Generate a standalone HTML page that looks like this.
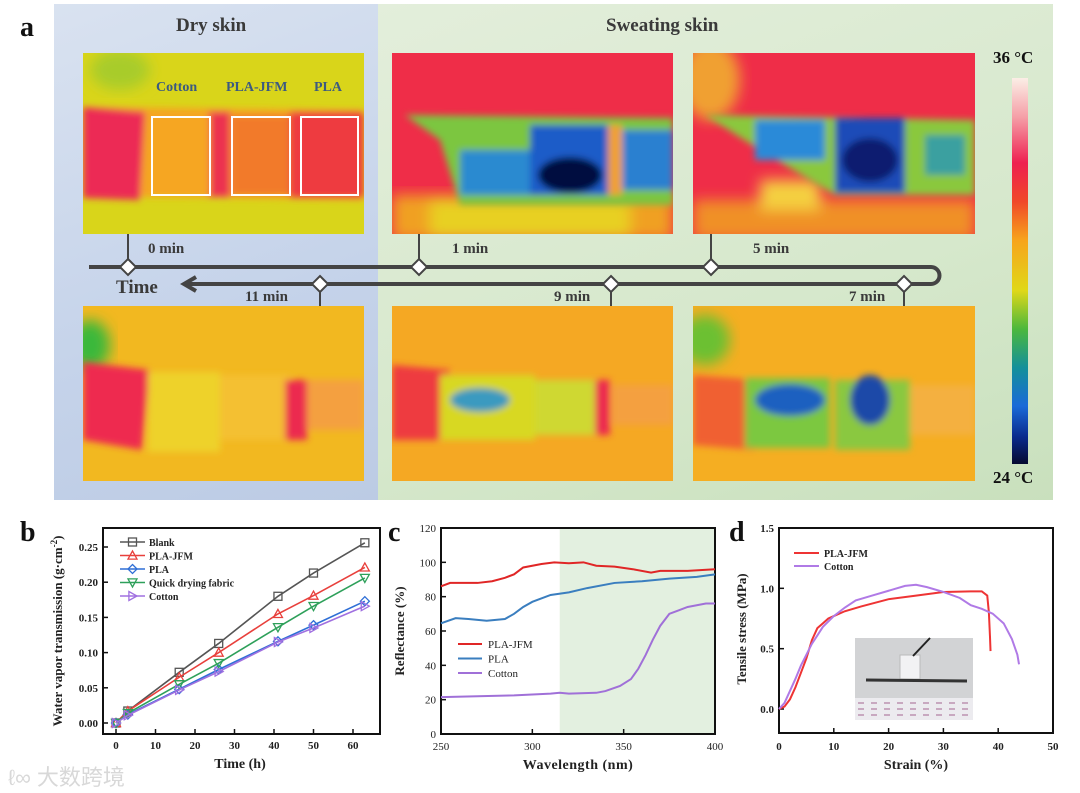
<!DOCTYPE html>
<html><head><meta charset="utf-8">
<style>
html,body{margin:0;padding:0;background:#fff;}
body{width:1080px;height:793px;position:relative;overflow:hidden;font-family:"Liberation Serif",serif;}
.abs{position:absolute;}
.lbl{position:absolute;font-weight:bold;color:#3a3a3a;font-family:"Liberation Serif",serif;white-space:nowrap;}
</style></head>
<body>
<div class="abs" style="left:54px;top:4px;width:324px;height:496px;background:linear-gradient(160deg,#d9e2f0,#c5d3ea 60%,#bccbe4);"></div>
<div class="abs" style="left:378px;top:4px;width:675px;height:496px;background:linear-gradient(160deg,#e3eedb,#d6e8cc 60%,#c9e0bd);"></div>
<div class="lbl" style="left:20px;top:12px;font-size:28px;color:#111;">a</div>
<div class="lbl" style="left:176px;top:15px;font-size:19px;">Dry skin</div>
<div class="lbl" style="left:606px;top:15px;font-size:19px;">Sweating skin</div>

<svg class="abs" style="left:0;top:0" width="1080" height="500">
<defs>
<filter id="b6" x="-20%" y="-20%" width="140%" height="140%"><feGaussianBlur stdDeviation="7"/></filter>
<filter id="b3"><feGaussianBlur stdDeviation="3.5"/></filter>
<linearGradient id="cbar" x1="0" y1="0" x2="0" y2="1">
<stop offset="0" stop-color="#fbeee6"/><stop offset="0.1" stop-color="#f5a0a8"/><stop offset="0.22" stop-color="#ee2050"/><stop offset="0.32" stop-color="#f04828"/><stop offset="0.42" stop-color="#f7a41c"/><stop offset="0.55" stop-color="#e0d818"/><stop offset="0.65" stop-color="#4cb83c"/><stop offset="0.75" stop-color="#14909a"/><stop offset="0.85" stop-color="#1a6ad8"/><stop offset="0.93" stop-color="#0a2a8c"/><stop offset="1" stop-color="#050a30"/>
</linearGradient>
<clipPath id="c1"><rect x="83" y="53" width="281" height="181"/></clipPath>
<clipPath id="c2"><rect x="392" y="53" width="281" height="181"/></clipPath>
<clipPath id="c3"><rect x="693" y="53" width="282" height="181"/></clipPath>
<clipPath id="c4"><rect x="83" y="306" width="281" height="175"/></clipPath>
<clipPath id="c5"><rect x="392" y="306" width="281" height="175"/></clipPath>
<clipPath id="c6"><rect x="693" y="306" width="282" height="175"/></clipPath>
</defs>
<g clip-path="url(#c1)">
<rect x="83" y="53" width="281" height="181" fill="#d9d51a"/>
<ellipse cx="120" cy="70" rx="30" ry="20" fill="#a8cc2a" filter="url(#b6)"/>
<g filter="url(#b3)">
<polygon points="83,107 364,110 364,200 83,196" fill="#f4a520"/>
<polygon points="83,107 145,112 140,200 83,198" fill="#ec2c55"/>
<rect x="208" y="112" width="22" height="85" fill="#ec3050"/>
<rect x="232" y="115" width="58" height="80" fill="#f27a2a"/>
<rect x="290" y="112" width="74" height="86" fill="#ee3a40"/>
<rect x="150" y="115" width="60" height="80" fill="#f6a624"/>
</g>
</g>
<g clip-path="url(#c2)">
<rect x="392" y="53" width="281" height="181" fill="#ef2d48"/>
<g filter="url(#b6)"><rect x="392" y="195" width="281" height="45" fill="#f0a020"/><rect x="430" y="200" width="200" height="40" fill="#e8d020"/></g>
<g filter="url(#b3)">
<polygon points="405,115 673,118 673,205 460,205 440,140" fill="#7cc640"/>
<rect x="460" y="150" width="70" height="45" fill="#2a8ad0"/>
<rect x="530" y="125" width="80" height="70" fill="#1c5cc8"/>
<ellipse cx="570" cy="175" rx="32" ry="18" fill="#060b40"/>
<rect x="608" y="125" width="14" height="70" fill="#f0a030"/>
<rect x="622" y="130" width="51" height="60" fill="#2a80d0"/>
</g>
</g>
<g clip-path="url(#c3)">
<rect x="693" y="53" width="282" height="181" fill="#ef2d48"/>
<ellipse cx="710" cy="80" rx="30" ry="40" fill="#f0a030" filter="url(#b6)"/>
<g filter="url(#b6)"><rect x="693" y="200" width="282" height="40" fill="#f09028"/><rect x="760" y="180" width="60" height="30" fill="#f4d040"/></g>
<g filter="url(#b3)">
<polygon points="705,115 975,120 975,195 905,195 835,195 760,150" fill="#8ac83c"/>
<rect x="755" y="120" width="70" height="40" fill="#2a8ad8"/>
<rect x="835" y="118" width="70" height="75" fill="#1a4cb8"/>
<ellipse cx="870" cy="160" rx="28" ry="22" fill="#0a1e70"/>
<rect x="925" y="135" width="40" height="40" fill="#3aa0a0"/>
</g>
</g>
<g clip-path="url(#c4)">
<rect x="83" y="306" width="281" height="175" fill="#f2b820"/>
<ellipse cx="90" cy="345" rx="20" ry="25" fill="#3ab83a" filter="url(#b6)"/>
<g filter="url(#b3)">
<polygon points="83,362 150,370 142,450 83,440" fill="#ee2c50"/>
<rect x="148" y="372" width="72" height="80" fill="#eed22a"/>
<rect x="220" y="375" width="70" height="65" fill="#f4c030"/>
<rect x="285" y="380" width="22" height="60" fill="#ec2c50"/>
<rect x="307" y="380" width="57" height="50" fill="#f4a040"/>
</g>
</g>
<g clip-path="url(#c5)">
<rect x="392" y="306" width="281" height="175" fill="#f5a823"/>
<g filter="url(#b3)">
<polygon points="392,365 450,370 445,440 392,440" fill="#ee3a40"/>
<rect x="440" y="375" width="95" height="65" fill="#d8d820"/>
<ellipse cx="480" cy="400" rx="30" ry="12" fill="#3a9ac0"/>
<rect x="535" y="380" width="60" height="55" fill="#cfd830"/>
<rect x="595" y="380" width="15" height="55" fill="#ec2c50"/>
<rect x="612" y="385" width="61" height="40" fill="#f4a040"/>
</g>
</g>
<g clip-path="url(#c6)">
<rect x="693" y="306" width="282" height="175" fill="#f5ae22"/>
<ellipse cx="705" cy="340" rx="25" ry="25" fill="#6cc030" filter="url(#b6)"/>
<g filter="url(#b3)">
<polygon points="693,375 760,380 755,450 693,445" fill="#f06030"/>
<rect x="745" y="378" width="85" height="70" fill="#7cc840"/>
<ellipse cx="790" cy="400" rx="35" ry="16" fill="#1a60c0"/>
<rect x="835" y="380" width="75" height="70" fill="#8ac840"/>
<ellipse cx="870" cy="400" rx="20" ry="25" fill="#1a4aa8"/>
<rect x="910" y="385" width="65" height="50" fill="#f4b040"/>
</g>
</g>
<g fill="none" stroke="#fff" stroke-width="2">
<rect x="152" y="117" width="58" height="78"/>
<rect x="232" y="117" width="58" height="78"/>
<rect x="301" y="117" width="57" height="78"/>
</g>
<rect x="1012" y="78" width="16" height="386" fill="url(#cbar)"/>
<g stroke="#444" stroke-width="4" fill="none">
<path d="M89,267 H931 A8.5,8.5 0 0 1 931,284 H184"/>
<path d="M196,277 L184,284 L196,291" stroke-width="4"/>
<g stroke-width="2">
<line x1="128" y1="234" x2="128" y2="267"/><line x1="419" y1="234" x2="419" y2="267"/><line x1="711" y1="234" x2="711" y2="267"/>
<line x1="320" y1="284" x2="320" y2="306"/><line x1="611" y1="284" x2="611" y2="306"/><line x1="904" y1="284" x2="904" y2="306"/>
</g>
</g>
<g fill="#fff" stroke="#444" stroke-width="2">
<polygon points="128,259 136,267 128,275 120,267"/><polygon points="419,259 427,267 419,275 411,267"/><polygon points="711,259 719,267 711,275 703,267"/>
<polygon points="320,276 328,284 320,292 312,284"/><polygon points="611,276 619,284 611,292 603,284"/><polygon points="904,276 912,284 904,292 896,284"/>
</g>
</svg>
<div class="lbl" style="left:156px;top:80px;font-size:14px;color:#3c5a80;">Cotton</div>
<div class="lbl" style="left:226px;top:80px;font-size:14px;color:#3c5a80;">PLA-JFM</div>
<div class="lbl" style="left:314px;top:80px;font-size:14px;color:#3c5a80;">PLA</div>
<div class="lbl" style="left:148px;top:241px;font-size:15px;">0 min</div>
<div class="lbl" style="left:452px;top:241px;font-size:15px;">1 min</div>
<div class="lbl" style="left:753px;top:241px;font-size:15px;">5 min</div>
<div class="lbl" style="left:245px;top:289px;font-size:15px;">11 min</div>
<div class="lbl" style="left:554px;top:289px;font-size:15px;">9 min</div>
<div class="lbl" style="left:849px;top:289px;font-size:15px;">7 min</div>
<div class="lbl" style="left:116px;top:277px;font-size:19px;">Time</div>
<div class="lbl" style="left:993px;top:48px;font-size:17px;color:#111;">36 °C</div>
<div class="lbl" style="left:993px;top:468px;font-size:17px;color:#111;">24 °C</div>

<div class="lbl" style="left:20px;top:517px;font-size:28px;color:#111;">b</div>
<div class="lbl" style="left:388px;top:517px;font-size:28px;color:#111;">c</div>
<div class="lbl" style="left:729px;top:517px;font-size:28px;color:#111;">d</div>
<div class="abs" style="left:8px;top:760px;font-size:22px;color:#d8d8d8;font-family:'Liberation Sans','Noto Sans CJK SC',sans-serif;">ℓ∞ 大数跨境</div>

<svg id="charts" class="abs" style="left:0;top:0" width="1080" height="793"></svg>

<script>
const bTime = [0, 3, 16, 26, 41, 50, 63];
const bNames = ["Blank", "PLA-JFM", "PLA", "Quick drying fabric", "Cotton"];
const bBlank = [0, 0.017, 0.072, 0.113, 0.180, 0.213, 0.256];
const bPlaJfm = [0, 0.017, 0.065, 0.100, 0.155, 0.181, 0.221];
const bPla = [0, 0.012, 0.048, 0.076, 0.116, 0.139, 0.173];
const bQuick = [0, 0.014, 0.055, 0.085, 0.136, 0.166, 0.206];
const bCotton = [0, 0.011, 0.047, 0.073, 0.115, 0.135, 0.166];
const bYTicks = ["0.00", "0.05", "0.10", "0.15", "0.20", "0.25"];
const bXTicks = ["0", "10", "20", "30", "40", "50", "60"];
const cWaveRed = [250,255,270,278,285,290,295,305,312,320,328,335,345,355,365,370,385,400];
const cRed = [86,88,88,89,91,93,97,99,100,99.5,100,98,97.5,96,94,95,95,96];
const cWaveBlue = [250,258,265,275,285,290,295,300,310,320,330,345,360,375,390,400];
const cBlue = [64.5,67.5,67,66,67,70,74,77,81,82.5,85,88,89,90.5,91.5,93];
const cWaveCot = [250,270,290,310,315,320,335,340,348,354,358,362,366,370,375,380,385,390,395,400];
const cCot = [21.5,22,22.5,23.5,24,23.5,24,25,28,32,38,46,55,63,70,72,74,75,76,76];
const cYTicks = ["0","20","40","60","80","100","120"];
const cXTicks = ["250","300","350","400"];
const cNames = ["PLA-JFM","PLA","Cotton"];
const dStrainJfm = [0,1,2,3,4,5,6,7,8,9,10,12,15,20,25,30,35,37,38,38.3,38.5,38.6];
const dJfm = [0,0.02,0.08,0.18,0.3,0.42,0.57,0.67,0.71,0.75,0.77,0.81,0.85,0.91,0.94,0.97,0.975,0.975,0.94,0.8,0.6,0.48];
const dStrainCot = [0,1,2,3,4,5,6,7,8,10,12,14,17,20,23,25,27,30,33,35,37,39,41,42.5,43.5,43.8];
const dCot = [0,0.05,0.15,0.25,0.36,0.45,0.54,0.61,0.68,0.77,0.84,0.9,0.94,0.98,1.02,1.03,1.01,0.97,0.92,0.86,0.83,0.79,0.71,0.58,0.45,0.37];
const dYTicks = ["0.0","0.5","1.0","1.5"];
const dXTicks = ["0","10","20","30","40","50"];
const dNames = ["PLA-JFM","Cotton"];

const NS = "http://www.w3.org/2000/svg";
const svg = document.getElementById("charts");
function mk(tag, attrs, parent) {
  const e = document.createElementNS(NS, tag);
  for (const k in attrs) e.setAttribute(k, attrs[k]);
  (parent || svg).appendChild(e);
  return e;
}
function txt(x, y, s, size, anchor, parent, extra) {
  const t = mk("text", Object.assign({x: x, y: y, "font-size": size, "text-anchor": anchor || "middle", "font-family": "Liberation Serif, serif", "font-weight": "bold", fill: "#222"}, extra || {}), parent);
  t.textContent = s;
  return t;
}
function lin(d0, d1, r0, r1) { return v => r0 + (v - d0) * (r1 - r0) / (d1 - d0); }

const bx = lin(0, 60, 116, 353), by = lin(0, 0.25, 723, 547);
const gb = mk("g", {});


mk("rect", {x: 103, y: 528, width: 277, height: 206, fill: "none", stroke: "#111", "stroke-width": 2}, gb);
bYTicks.forEach(t => { const y = by(parseFloat(t)); mk("line", {x1: 103, y1: y, x2: 108, y2: y, stroke: "#111", "stroke-width": 1.5}, gb); txt(98, y + 4, t, 11, "end", gb); });
bXTicks.forEach(t => { const x = bx(parseFloat(t)); mk("line", {x1: x, y1: 734, x2: x, y2: 729, stroke: "#111", "stroke-width": 1.5}, gb); txt(x, 749, t, 11, "middle", gb); });
txt(240, 768, "Time (h)", 14, "middle", gb);
const bt = txt(0, 0, "", 13, "middle", gb, {transform: "translate(62,631) rotate(-90)"});
bt.innerHTML = 'Water vapor transmission (g·cm<tspan dy="-5" font-size="9">-2</tspan><tspan dy="5">)</tspan>';
const bSeries = [bBlank, bPlaJfm, bPla, bQuick, bCotton];
const bColors = ["#555555", "#e8403c", "#2f6fd6", "#2ea05a", "#a070e0"];
const bMarks = ["sq", "tri", "dia", "tridown", "triright"];
function marker(kind, x, y, c, p) {
  const s = 4.5, a = {fill: "none", stroke: c, "stroke-width": 1.3};
  if (kind === "sq") return mk("rect", Object.assign({x: x - s + 0.5, y: y - s + 0.5, width: 2 * s - 1, height: 2 * s - 1}, a), p);
  let pts;
  if (kind === "tri") pts = [[x, y - s], [x + s, y + s * 0.8], [x - s, y + s * 0.8]];
  if (kind === "tridown") pts = [[x, y + s], [x + s, y - s * 0.8], [x - s, y - s * 0.8]];
  if (kind === "triright") pts = [[x + s, y], [x - s * 0.8, y + s], [x - s * 0.8, y - s]];
  if (kind === "dia") pts = [[x, y - s], [x + s, y], [x, y + s], [x - s, y]];
  return mk("polygon", Object.assign({points: pts.map(p => p.join(",")).join(" ")}, a), p);
}
bSeries.forEach((ser, i) => {
  const g = mk("g", {}, gb);
  
  
  mk("polyline", {points: ser.map((v, j) => bx(bTime[j]) + "," + by(v)).join(" "), fill: "none", stroke: bColors[i], "stroke-width": 1.6}, g);
  ser.forEach((v, j) => marker(bMarks[i], bx(bTime[j]), by(v), bColors[i], g));
  const ly = 542 + i * 13.5;
  const lg = mk("g", {}, gb);
  
  
  mk("line", {x1: 120, y1: ly, x2: 145, y2: ly, stroke: bColors[i], "stroke-width": 1.6}, lg);
  marker(bMarks[i], 132.5, ly, bColors[i], lg);
  txt(149, ly + 4, bNames[i], 10, "start", lg);
});

const cx = lin(250, 400, 441, 715), cy = lin(0, 120, 734, 528);
const gc = mk("g", {});


mk("rect", {x: cx(315), y: 528, width: cx(400) - cx(315), height: 206, fill: "#e3f0e0"}, gc);
mk("rect", {x: 441, y: 528, width: 274, height: 206, fill: "none", stroke: "#111", "stroke-width": 2}, gc);
cYTicks.forEach(t => { const y = cy(parseFloat(t)); mk("line", {x1: 441, y1: y, x2: 446, y2: y, stroke: "#111", "stroke-width": 1.5}, gc); txt(436, y + 4, t, 11, "end", gc, {"font-weight": "normal"}); });
cXTicks.forEach(t => { const x = cx(parseFloat(t)); mk("line", {x1: x, y1: 734, x2: x, y2: 729, stroke: "#111", "stroke-width": 1.5}, gc); txt(x, 750, t, 11, "middle", gc, {"font-weight": "normal"}); });
txt(578, 769, "Wavelength (nm)", 14, "middle", gc, {"letter-spacing": "0.5"});
txt(0, 0, "Reflectance (%)", 13, "middle", gc, {transform: "translate(404,631) rotate(-90)"});
const cSeries = [[cWaveRed, cRed], [cWaveBlue, cBlue], [cWaveCot, cCot]];
const cColors = ["#e02626", "#3a7ebf", "#a070d8"];
cSeries.forEach((s, i) => {
  const p = mk("polyline", {points: s[0].map((w, j) => cx(w) + "," + cy(s[1][j])).join(" "), fill: "none", stroke: cColors[i], "stroke-width": 2}, gc);
  
  
  const ly = 644 + i * 14.5;
  const lg = mk("g", {}, gc);
  
  
  mk("line", {x1: 458, y1: ly, x2: 482, y2: ly, stroke: cColors[i], "stroke-width": 2}, lg);
  txt(488, ly + 4, cNames[i], 11, "start", lg, {"font-weight": "normal"});
});

const dx = lin(0, 50, 779, 1053), dy = lin(0, 1.5, 709, 528);
const gd = mk("g", {});


mk("rect", {x: 779, y: 528, width: 274, height: 205, fill: "none", stroke: "#111", "stroke-width": 2}, gd);
dYTicks.forEach(t => { const y = dy(parseFloat(t)); mk("line", {x1: 779, y1: y, x2: 784, y2: y, stroke: "#111", "stroke-width": 1.5}, gd); txt(774, y + 4, t, 11, "end", gd); });
dXTicks.forEach(t => { const x = dx(parseFloat(t)); mk("line", {x1: x, y1: 733, x2: x, y2: 728, stroke: "#111", "stroke-width": 1.5}, gd); txt(x, 750, t, 11, "middle", gd); });
txt(916, 769, "Strain (%)", 14, "middle", gd);
txt(0, 0, "Tensile stress (MPa)", 13, "middle", gd, {transform: "translate(746,629) rotate(-90)"});
const ph = mk("g", {}, gd);


mk("rect", {x: 855, y: 638, width: 118, height: 82, fill: "#d2d3d5"}, ph);
mk("rect", {x: 855, y: 698, width: 118, height: 22, fill: "#ecebef"}, ph);
for (let r = 0; r < 3; r++) for (let c = 0; c < 9; c++) mk("rect", {x: 858 + c * 13, y: 702 + r * 6, width: 6, height: 2, fill: "#c8a8c0"}, ph);
mk("rect", {x: 900, y: 655, width: 20, height: 24, fill: "#f2f2f4", stroke: "#bbb"}, ph);
mk("line", {x1: 866, y1: 680, x2: 967, y2: 681, stroke: "#333", "stroke-width": 3}, ph);
mk("line", {x1: 913, y1: 656, x2: 930, y2: 638, stroke: "#222", "stroke-width": 2}, ph);
const dSeries = [[dStrainJfm, dJfm], [dStrainCot, dCot]];
const dColors = ["#ee3434", "#b07ae6"];
dSeries.forEach((s, i) => {
  const p = mk("polyline", {points: s[0].map((w, j) => dx(w) + "," + dy(s[1][j])).join(" "), fill: "none", stroke: dColors[i], "stroke-width": 2}, gd);
  
  
  const ly = 553 + i * 13;
  const lg = mk("g", {}, gd);
  
  
  mk("line", {x1: 794, y1: ly, x2: 819, y2: ly, stroke: dColors[i], "stroke-width": 2}, lg);
  txt(824, ly + 4, dNames[i], 10, "start", lg);
});
</script>
</body></html>
